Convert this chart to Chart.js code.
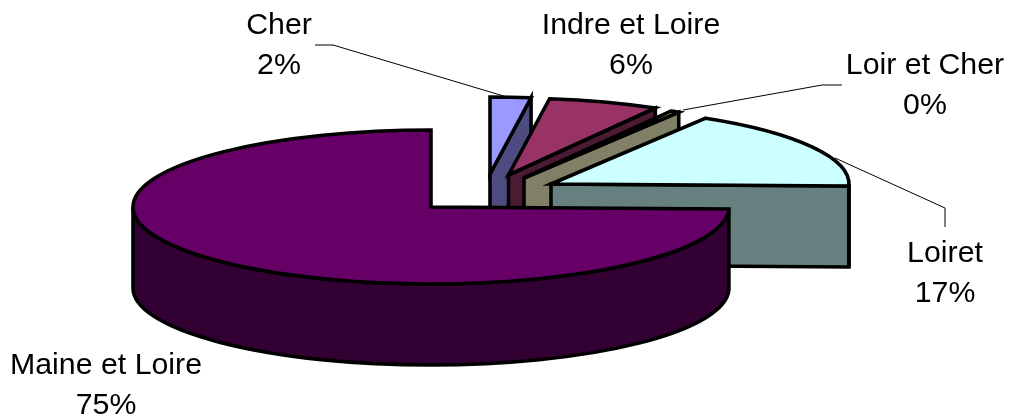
<!DOCTYPE html>
<html>
<head>
<meta charset="utf-8">
<style>html,body{margin:0;padding:0;background:#fff}canvas{display:block}</style>
<script src="https://cdn.jsdelivr.net/npm/chart.js@4"></script>
</head>
<body>
<canvas id="c" width="1009" height="419"></canvas>
<script>
const categories = ['Cher', 'Indre et Loire', 'Loir et Cher', 'Loiret', 'Maine et Loire'];
const shares = [2.2, 6.0, 0.49, 16.71, 74.6];
const topColors = ['#9999ff', '#993366', '#ffffcc', '#ccffff', '#660066'];
const wallColors = ['#4c4c80', '#4c1a33', '#808066', '#668080', '#330033'];

// Layout of the drawing (not data)
const RX = 298, RY = 77, DEPTH = 81, STROKE = 3.6;
const sliceCentres = [[490, 174], [508.5, 175], [524, 178], [551, 184], [431, 207]];
const labelPos = [[279, 34], [631, 34], [925, 74], [945, 262], [106, 374]];
const LINE_GAP = 40;
const leaders = [
  [[315, 45], [333, 45], [507, 97]],
  [[842, 85], [822, 85], [683, 110]],
  [[835, 158], [945, 208], [945, 227]]
];

const TOP = -Math.PI / 2;
function clockwise(a) { return a - TOP; }

const pie3d = {
  id: 'pie3d',
  beforeDatasetsDraw(chart) {
    const ctx = chart.ctx;
    const arcs = chart.getDatasetMeta(0).data;
    arcs.forEach((arc, i) => {
      const [cx, cy] = sliceCentres[i];
      const p = arc.getProps(['x', 'y', 'startAngle', 'endAngle', 'outerRadius'], true);
      const sa = p.startAngle, ea = p.endAngle;
      const pt = a => [cx + RX * Math.cos(a), cy + RY * Math.sin(a)];
      ctx.save();
      ctx.lineWidth = STROKE;
      ctx.strokeStyle = '#000';
      ctx.lineJoin = 'miter';
      ctx.fillStyle = wallColors[i];

      const quad = (a) => {
        const e = pt(a);
        ctx.beginPath();
        ctx.moveTo(cx, cy);
        ctx.lineTo(e[0], e[1]);
        ctx.lineTo(e[0], e[1] + DEPTH);
        ctx.lineTo(cx, cy + DEPTH);
        ctx.closePath();
        ctx.fill();
        ctx.stroke();
      };
      // flat cut faces that look towards the viewer
      if (clockwise(ea) > 0 && clockwise(ea) < Math.PI) quad(ea);
      if (clockwise(sa) > Math.PI && clockwise(sa) < 2 * Math.PI) quad(sa);

      // outer rim: the part of the arc on the front half of the ellipse
      const a0 = Math.max(sa, 0), a1 = Math.min(ea, Math.PI);
      if (a1 > a0) {
        const s = pt(a0), e = pt(a1);
        ctx.beginPath();
        ctx.ellipse(cx, cy, RX, RY, 0, a0, a1, false);
        ctx.lineTo(e[0], e[1] + DEPTH);
        ctx.ellipse(cx, cy + DEPTH, RX, RY, 0, a1, a0, true);
        ctx.lineTo(s[0], s[1]);
        ctx.closePath();
        ctx.fill();
        ctx.stroke();
      }

      // top face: the library's own arc element, squashed into an ellipse
      ctx.save();
      ctx.translate(cx, cy);
      ctx.scale(RX / p.outerRadius, RY / p.outerRadius);
      ctx.translate(-p.x, -p.y);
      arc.draw(ctx);
      ctx.restore();

      // outline of the top face at constant width
      ctx.beginPath();
      ctx.moveTo(cx, cy);
      ctx.ellipse(cx, cy, RX, RY, 0, sa, ea, false);
      ctx.closePath();
      ctx.stroke();
      ctx.restore();
    });
    return false;
  },
  afterDraw(chart) {
    const ctx = chart.ctx;
    ctx.save();
    ctx.strokeStyle = '#000';
    ctx.lineWidth = 1;
    leaders.forEach(l => {
      ctx.beginPath();
      l.forEach((q, k) => k ? ctx.lineTo(q[0], q[1]) : ctx.moveTo(q[0], q[1]));
      ctx.stroke();
    });
    ctx.fillStyle = '#000';
    ctx.font = '30.3px "Liberation Sans", Arial, sans-serif';
    ctx.textAlign = 'center';
    ctx.textBaseline = 'alphabetic';
    const total = shares.reduce((a, b) => a + b, 0);
    categories.forEach((name, i) => {
      const [x, y] = labelPos[i];
      ctx.fillText(name, x, y);
      ctx.fillText(Math.round(shares[i] / total * 100) + '%', x, y + LINE_GAP);
    });
    ctx.restore();
  }
};

new Chart(document.getElementById('c'), {
  type: 'pie',
  data: {
    labels: categories,
    datasets: [{ data: shares, backgroundColor: topColors, borderWidth: 0 }]
  },
  options: {
    responsive: false,
    animation: false,
    events: [],
    plugins: { legend: { display: false }, tooltip: { enabled: false } }
  },
  plugins: [pie3d]
});
</script>
</body>
</html>
